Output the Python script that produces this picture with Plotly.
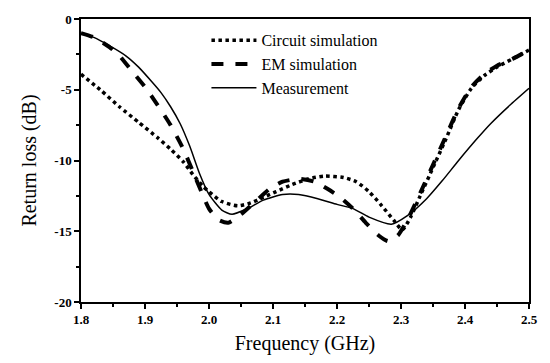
import plotly.graph_objects as go

freq_circuit = [1.80, 1.83, 1.86, 1.89, 1.92, 1.94, 1.96, 1.975, 1.99, 2.00, 2.02, 2.045, 2.065, 2.085, 2.105, 2.13, 2.155, 2.18, 2.21, 2.23, 2.25, 2.27, 2.29, 2.302, 2.315, 2.33, 2.35, 2.37, 2.39, 2.41, 2.43, 2.45, 2.475, 2.50]
rl_circuit = [-3.9, -5.0, -6.2, -7.3, -8.4, -9.2, -10.1, -11.0, -11.8, -12.2, -12.9, -13.2, -13.0, -12.6, -12.2, -11.7, -11.3, -11.1, -11.2, -11.5, -12.2, -13.2, -14.3, -14.9, -14.0, -12.5, -10.5, -8.5, -6.4, -4.9, -4.0, -3.4, -2.8, -2.2]

freq_em = [1.80, 1.82, 1.845, 1.86, 1.88, 1.90, 1.92, 1.94, 1.96, 1.975, 1.99, 2.00, 2.015, 2.03, 2.05, 2.075, 2.095, 2.115, 2.14, 2.165, 2.185, 2.205, 2.225, 2.245, 2.265, 2.28, 2.295, 2.31, 2.33, 2.35, 2.37, 2.39, 2.41, 2.43, 2.45, 2.475, 2.50]
rl_em = [-1.0, -1.3, -2.0, -2.6, -3.7, -4.8, -6.1, -7.5, -9.2, -10.8, -12.4, -13.4, -14.2, -14.4, -13.8, -12.8, -12.0, -11.5, -11.3, -11.5, -12.0, -12.6, -13.4, -14.4, -15.3, -15.7, -15.3, -14.2, -12.3, -10.3, -8.3, -6.3, -4.8, -3.9, -3.3, -2.8, -2.2]

freq_meas = [1.80, 1.82, 1.845, 1.87, 1.89, 1.91, 1.925, 1.94, 1.955, 1.97, 1.985, 2.00, 2.02, 2.036, 2.06, 2.085, 2.115, 2.14, 2.17, 2.20, 2.225, 2.25, 2.285, 2.31, 2.34, 2.365, 2.39, 2.42, 2.44, 2.47, 2.50]
rl_meas = [-1.0, -1.3, -1.9, -2.6, -3.4, -4.4, -5.2, -6.2, -7.4, -9.0, -10.9, -12.4, -13.5, -13.8, -13.4, -12.8, -12.4, -12.4, -12.7, -13.1, -13.4, -14.0, -14.5, -13.9, -12.7, -11.4, -10.0, -8.4, -7.4, -6.1, -4.9]

names = ["Circuit simulation", "EM simulation", "Measurement"]
x_ticks = [1.8, 1.9, 2.0, 2.1, 2.2, 2.3, 2.4, 2.5]
y_ticks = [0, -5, -10, -15, -20]

fig = go.Figure()
fig.add_trace(go.Scatter(x=freq_circuit, y=rl_circuit, mode="lines", name=names[0],
                         line=dict(color="black", width=3.5, dash="dot", shape="spline", smoothing=0.6)))
fig.add_trace(go.Scatter(x=freq_em, y=rl_em, mode="lines", name=names[1],
                         line=dict(color="black", width=4, dash="dash", shape="spline", smoothing=0.6)))
fig.add_trace(go.Scatter(x=freq_meas, y=rl_meas, mode="lines", name=names[2],
                         line=dict(color="black", width=1.5, shape="spline", smoothing=0.6)))

font_serif = "Liberation Serif"
fig.update_layout(
    width=550, height=363,
    margin=dict(l=81, r=21, t=12, b=59),
    paper_bgcolor="white", plot_bgcolor="white",
    font=dict(family=font_serif, color="black"),
    showlegend=True,
    legend=dict(x=0.28, y=0.985, xanchor="left", yanchor="top", bgcolor="rgba(0,0,0,0)",
                font=dict(size=16, family=font_serif), itemwidth=45, tracegroupgap=0),
    xaxis=dict(range=[1.8, 2.5], tickvals=x_ticks, ticktext=[f"<b>{v:.1f}</b>" for v in x_ticks],
               ticks="outside", ticklen=5, tickwidth=1.5, tickcolor="black",
               minor=dict(ticks="outside", ticklen=3, dtick=0.05, tickcolor="black"),
               showline=True, linecolor="black", linewidth=1.5, mirror=True, showgrid=False, zeroline=False,
               tickfont=dict(size=13, family=font_serif),
               title=dict(text="Frequency (GHz)", font=dict(size=20, family=font_serif), standoff=10)),
    yaxis=dict(range=[-20, 0], tickvals=y_ticks, ticktext=[f"<b>{v}</b>" for v in y_ticks],
               ticks="outside", ticklen=5, tickwidth=1.5, tickcolor="black",
               minor=dict(ticks="outside", ticklen=3, dtick=2.5, tickcolor="black"),
               showline=True, linecolor="black", linewidth=1.5, mirror=True, showgrid=False, zeroline=False,
               tickfont=dict(size=13, family=font_serif),
               title=dict(text="Return loss (dB)", font=dict(size=20, family=font_serif), standoff=12)),
)

fig.write_html("out.html")
